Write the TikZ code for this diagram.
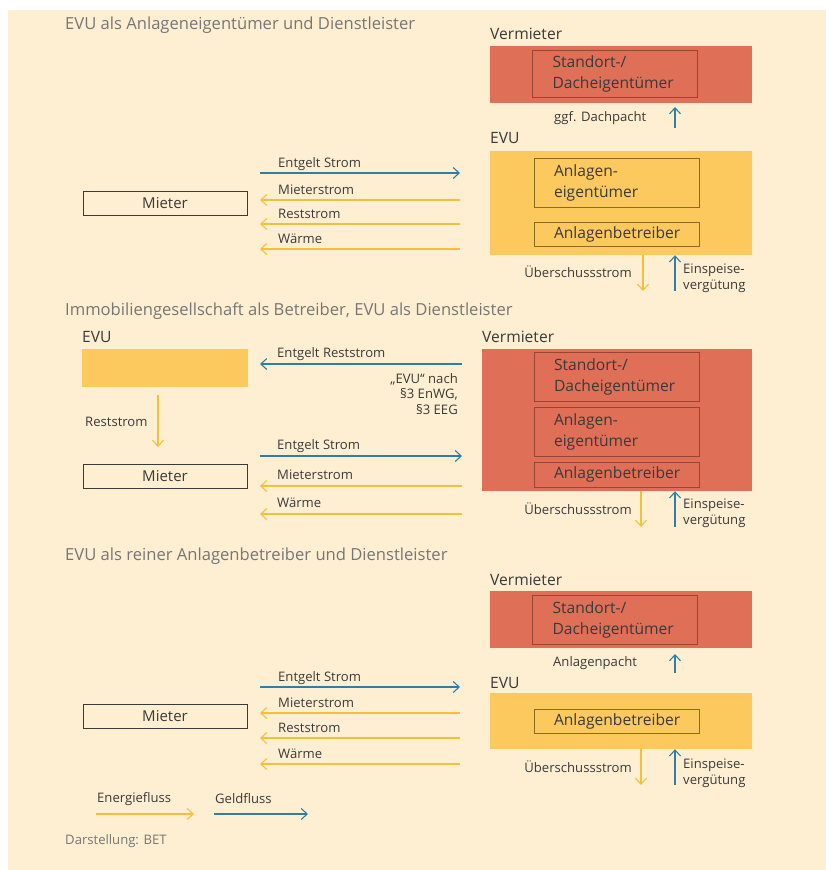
\documentclass[tikz,border=0pt]{standalone}
\usepackage{fontspec}
\setmainfont{Open Sans}
\usetikzlibrary{arrows.meta}

\definecolor{grundton}{HTML}{FFEFD2}
\definecolor{vermrot}{HTML}{DF6F57}
\definecolor{evugelb}{HTML}{FBC95E}
\definecolor{geldblau}{HTML}{2F7FA5}
\definecolor{energiegelb}{HTML}{F3C03E}
\definecolor{titelgrau}{HTML}{767676}
\definecolor{schrift}{HTML}{3A3A3A}
\definecolor{rotlinie}{HTML}{9A4534}
\definecolor{gelblinie}{HTML}{8C6A1E}

\tikzset{
  titel/.style={anchor=west, inner sep=0pt, text=titelgrau, font=\fontsize{16.6}{19}\selectfont},
  rolle/.style={anchor=west, inner sep=0pt, text=schrift, font=\fontsize{15.6}{18}\selectfont},
  klein/.style={inner sep=0pt, text=schrift, font=\fontsize{13.1}{15.5}\selectfont},
  flaeche/.style={minimum width=262pt, inner sep=0pt},
  rotflaeche/.style={flaeche, fill=vermrot},
  gelbflaeche/.style={flaeche, fill=evugelb},
  teil/.style={draw, line width=0.9pt, text width=125pt, inner xsep=20pt, inner ysep=0pt,
    align=left, text=schrift, font=\fontsize{15.6}{21}\selectfont},
  teilrot/.style={teil, draw=rotlinie},
  teilgelb/.style={teil, draw=gelblinie},
  mieterbox/.style={draw=schrift, line width=0.9pt, minimum width=164pt, minimum height=24pt,
    inner sep=0pt, text=schrift, font=\fontsize{15}{17}\selectfont},
  geld/.style={draw=geldblau, line width=1.1pt, -{Straight Barb[length=6pt,width=11pt]}},
  energie/.style={draw=energiegelb, line width=1.1pt, -{Straight Barb[length=6pt,width=11pt]}}
}

\begin{document}
\begin{tikzpicture}[x=1pt, y=-1pt]
  \useasboundingbox (0,0) rectangle (826,870);
  \fill[grundton] (8,10) rectangle (826,870);

  % --- EVU als Anlageneigentuemer ---
  \node[titel] (t1) at (65,25) {EVU als Anlageneigentümer und Dienstleister};
  \node[rolle] (verm1) at (490,34) {Vermieter};
  \node[rotflaeche, minimum height=57pt] (rot1) at (621,74.5) {};
  \node[teilrot, minimum height=47pt] (sd1) at (615,73.5) {Standort-/\\Dacheigentümer};
  \node[klein, anchor=west] (dp1) at (554,118) {ggf. Dachpacht};
  \coordinate (dp1u) at (675,128);
  \coordinate (dp1o) at (675,107);
  \draw[geld] (dp1u) -- (dp1o);
  \node[rolle] (evu1) at (490,138) {EVU};
  \node[gelbflaeche, minimum height=104pt] (gelb1) at (621,203) {};
  \node[teilgelb, minimum height=49pt] (ae1) at (616.5,182.5) {Anlagen-\\eigentümer};
  \node[teilgelb, minimum height=24pt] (ab1) at (616.5,234) {Anlagenbetreiber};
  \coordinate (ue1) at (643,291);
  \coordinate (ev1) at (675,291);
  \draw[energie] (ue1 |- gelb1.south) -- (ue1);
  \draw[geld] (ev1) -- (ev1 |- gelb1.south);
  \node[klein, anchor=east] (uet1) at (632,272) {Überschussstrom};
  \node[klein, anchor=north west, align=left] (evt1) at (683,264) {Einspeise-\\vergütung};
  \node[mieterbox] (mieter1) at (165,203.5) {Mieter};
  \foreach \y/\txt/\art/\von/\bis [count=\i] in {173/Entgelt Strom/geld/260/460,
      200/Mieterstrom/energie/460/260, 224/Reststrom/energie/460/260, 249/Wärme/energie/460/260}{
    \coordinate (p1a\i) at (\von,\y);
    \coordinate (p1b\i) at (\bis,\y);
    \draw[\art] (p1a\i) -- (p1b\i);
    \node[klein, anchor=base west] (p1f\i) at (278,{\y-6}) {\txt};
  }

  % --- Immobiliengesellschaft als Betreiber ---
  \node[titel] (t2) at (65,311) {Immobiliengesellschaft als Betreiber, EVU als Dienstleister};
  \node[rolle] (evu2) at (82,337) {EVU};
  \node[gelbflaeche, minimum width=166pt, minimum height=38pt] (gelb2) at (165,368) {};
  \node[mieterbox] (mieter2) at (165,476.5) {Mieter};
  \coordinate (rs2o) at (158,395);
  \coordinate (rs2u) at (158,447);
  \draw[energie] (rs2o) -- (rs2u);
  \node[klein, anchor=west] (rst2) at (85,422) {Reststrom};
  \node[rolle] (verm2) at (482,337) {Vermieter};
  \node[rotflaeche, minimum width=270pt, minimum height=142pt] (rot2) at (617,420) {};
  \node[teilrot, minimum height=49pt] (sd2) at (616.5,376.5) {Standort-/\\Dacheigentümer};
  \node[teilrot, minimum height=49pt] (ae2) at (616.5,431.5) {Anlagen-\\eigentümer};
  \node[teilrot, minimum height=25pt] (ab2) at (616.5,474.5) {Anlagenbetreiber};
  \node[klein, anchor=north east, align=right] (hw2) at (458,373) {„EVU“ nach\\§3 EnWG,\\§3 EEG};
  \foreach \y/\txt/\art/\von/\bis [count=\i] in {364/Entgelt Reststrom/geld/462/260,
      456/Entgelt Strom/geld/260/462, 486/Mieterstrom/energie/462/260, 514/Wärme/energie/462/260}{
    \coordinate (p2a\i) at (\von,\y);
    \coordinate (p2b\i) at (\bis,\y);
    \draw[\art] (p2a\i) -- (p2b\i);
    \node[klein, anchor=base west] (p2f\i) at (277,{\y-7}) {\txt};
  }
  \coordinate (ue2) at (641,527);
  \coordinate (ev2) at (675,527);
  \draw[energie] (ue2 |- rot2.south) -- (ue2);
  \draw[geld] (ev2) -- (ev2 |- rot2.south);
  \node[klein, anchor=east] (uet2) at (632,509) {Überschussstrom};
  \node[klein, anchor=north west, align=left] (evt2) at (683,499) {Einspeise-\\vergütung};

  % --- EVU als reiner Anlagenbetreiber ---
  \node[titel] (t3) at (65,556) {EVU als reiner Anlagenbetreiber und Dienstleister};
  \node[rolle] (verm3) at (490,580) {Vermieter};
  \node[rotflaeche, minimum height=57pt] (rot3) at (621,619.5) {};
  \node[teilrot, minimum height=49pt] (sd3) at (615,619.5) {Standort-/\\Dacheigentümer};
  \node[klein, anchor=west] (ap3) at (553,663) {Anlagenpacht};
  \coordinate (ap3u) at (675,673);
  \coordinate (ap3o) at (675,654);
  \draw[geld] (ap3u) -- (ap3o);
  \node[rolle] (evu3) at (490,683) {EVU};
  \node[gelbflaeche, minimum height=56pt] (gelb3) at (621,721) {};
  \node[teilgelb, minimum height=24pt] (ab3) at (616.5,721) {Anlagenbetreiber};
  \coordinate (ue3) at (641,785);
  \coordinate (ev3) at (675,785);
  \draw[energie] (ue3 |- gelb3.south) -- (ue3);
  \draw[geld] (ev3) -- (ev3 |- gelb3.south);
  \node[klein, anchor=east] (uet3) at (632,767) {Überschussstrom};
  \node[klein, anchor=north west, align=left] (evt3) at (683,759) {Einspeise-\\vergütung};
  \node[mieterbox] (mieter3) at (165,716) {Mieter};
  \foreach \y/\txt/\art/\von/\bis [count=\i] in {687/Entgelt Strom/geld/260/460,
      713/Mieterstrom/energie/460/260, 738/Reststrom/energie/460/260, 764/Wärme/energie/460/260}{
    \coordinate (p3a\i) at (\von,\y);
    \coordinate (p3b\i) at (\bis,\y);
    \draw[\art] (p3a\i) -- (p3b\i);
    \node[klein, anchor=base west] (p3f\i) at (278,{\y-6}) {\txt};
  }

  % --- Legende ---
  \node[klein, anchor=west] (leg1) at (97,799) {Energiefluss};
  \node[klein, anchor=west] (leg2) at (215,799) {Geldfluss};
  \coordinate (leg1a) at (96,814);
  \coordinate (leg1b) at (194,814);
  \coordinate (leg2a) at (214,814);
  \coordinate (leg2b) at (308,814);
  \draw[energie] (leg1a) -- (leg1b);
  \draw[geld] (leg2a) -- (leg2b);
  \node[klein, anchor=west, text=titelgrau] (quelle) at (65,841) {Darstellung: BET};
\end{tikzpicture}
\end{document}
